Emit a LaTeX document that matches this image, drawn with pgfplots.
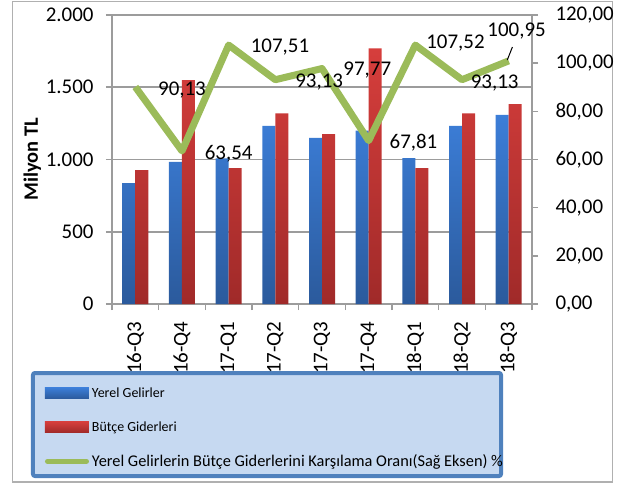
\documentclass[border=0pt]{standalone}
\usepackage{fontspec}
\setmainfont{Carlito}
\usepackage{pgfplots}
\pgfplotsset{compat=1.18}
\definecolor{gridgray}{HTML}{9C9C9C}
\definecolor{barblueT}{HTML}{3C7ED8}
\definecolor{barblueB}{HTML}{2B5A9C}
\definecolor{barredT}{HTML}{D63E3C}
\definecolor{barredB}{HTML}{A02A29}
\definecolor{lgreen}{HTML}{9BBB59}
\definecolor{legfill}{HTML}{C6D9F1}
\definecolor{legdraw}{HTML}{4F81BD}
\pgfplotstableread{
x gelir gider
0 837 927
1 983 1550
2 1008 941
3 1232 1320
4 1149 1176
5 1200 1769
6 1010 941
7 1232 1320
8 1308 1384
}\bars
\pgfplotstableread{
x oran
0 90.13
1 63.54
2 107.51
3 93.13
4 97.77
5 67.81
6 107.52
7 93.13
8 100.95
}\ratio
\begin{document}
\begin{tikzpicture}
\path[use as bounding box] (-112bp,-184bp) rectangle (506bp,304bp);
\draw[gridgray!80, line width=1.5bp] (-99.5bp,302.5bp) rectangle (500.5bp,-178bp);
\draw[legdraw, fill=legfill, line width=4bp, rounded corners=2bp] (-79bp,-69bp) rectangle (389bp,-172bp);
\begin{axis}[
  at={(0,0)}, anchor=south west, scale only axis,
  width=420bp, height=289bp,
  xmin=-0.5, xmax=8.5, ymin=0, ymax=2000,
  ybar=0pt, bar width=13bp,
  axis y line*=left, axis x line*=bottom,
  axis line style={gridgray, line width=1.5bp},
  every tick/.style={gridgray, line width=1.5bp},
  tick align=outside, major tick length=6bp, minor tick length=6bp,
  xtick={0,...,8},
  xticklabels={16-Q3,16-Q4,17-Q1,17-Q2,17-Q3,17-Q4,18-Q1,18-Q2,18-Q3},
  major x tick style={draw=none},
  minor xtick={-0.5,0.5,...,8.5},
  ytick={0,500,1000,1500,2000},
  ymajorgrids, grid style={gridgray, line width=1.5bp},
  /pgf/number format/assume math mode=true,
  /pgf/number format/1000 sep={.},
  ticklabel style={font=\fontsize{21}{25}\selectfont, text=black},
  xticklabel style={rotate=90, anchor=east},
  xticklabel shift=8bp,
  yticklabel shift=9bp,
  ylabel={Milyon TL},
  ylabel style={at={(axis description cs:-0.19,0.5)}, anchor=center, font=\fontsize{20.5}{24}\selectfont\bfseries},
]
\addplot[draw=none, top color=barblueT, bottom color=barblueB] table[x=x, y=gelir] {\bars};
\addplot[draw=none, top color=barredT, bottom color=barredB] table[x=x, y=gider] {\bars};
\end{axis}
\begin{axis}[
  at={(0,0)}, anchor=south west, scale only axis,
  width=420bp, height=289bp,
  xmin=-0.5, xmax=8.5, ymin=0, ymax=120,
  axis y line*=right, axis x line=none,
  axis line style={gridgray, line width=1.5bp},
  every tick/.style={gridgray, line width=1.5bp},
  tick align=outside, major tick length=6bp,
  ytick={0,20,...,120},
  /pgf/number format/assume math mode=true,
  /pgf/number format/.cd, fixed, fixed zerofill, precision=2, use comma, /pgfplots/.cd,
  ticklabel style={font=\fontsize{21}{25}\selectfont, text=black},
  yticklabel shift=14bp,
  legend style={at={(axis description cs:-0.16,-0.249)}, anchor=north west,
    draw=none, fill=none, inner sep=0pt, row sep=0pt,
    nodes={minimum height=34bp, inner sep=3bp}},
  legend cell align=left,
  clip=false,
]
\addlegendimage{legend image code/.code={\path[draw=none, top color=barblueT, bottom color=barblueB] (0bp,-5.5bp) rectangle (44bp,5.5bp);}}
\addlegendentry{\fontsize{14}{16}\selectfont Yerel Gelirler}
\addlegendimage{legend image code/.code={\path[draw=none, top color=barredT, bottom color=barredB] (0bp,-5.5bp) rectangle (44bp,5.5bp);}}
\addlegendentry{\fontsize{14}{16}\selectfont Bütçe Giderleri}
\addplot[lgreen, line width=7bp, line join=round, mark=none,
  legend image code/.code={\draw[lgreen, line width=5bp, line cap=round] (2.5bp,0bp) -- (41.5bp,0bp);}]
  table[x=x, y=oran] {\ratio};
\addlegendentry{\fontsize{16.4}{19}\selectfont Yerel Gelirlerin Bütçe Giderlerini Karşılama Oranı(Sağ Eksen) \%}
\begin{scope}[every node/.style={font=\fontsize{21}{25}\selectfont, text=black}]
\node at (axis cs:1,88.9) {90,13};
\node at (axis cs:2,62.3) {63,54};
\node at (axis cs:3.1,106.7) {107,51};
\node at (axis cs:3.94,92.2) {93,13};
\node at (axis cs:4.97,97.2) {97,77};
\node at (axis cs:5.96,66.9) {67,81};
\node at (axis cs:6.86,108.4) {107,52};
\node at (axis cs:7.7,91.8) {93,13};
\node at (axis cs:8.17,113.4) {100,95};
\end{scope}
\draw[black, line width=1bp] (axis cs:8.08,106.7) -- (axis cs:7.97,101.3);
\end{axis}
\end{tikzpicture}
\end{document}
